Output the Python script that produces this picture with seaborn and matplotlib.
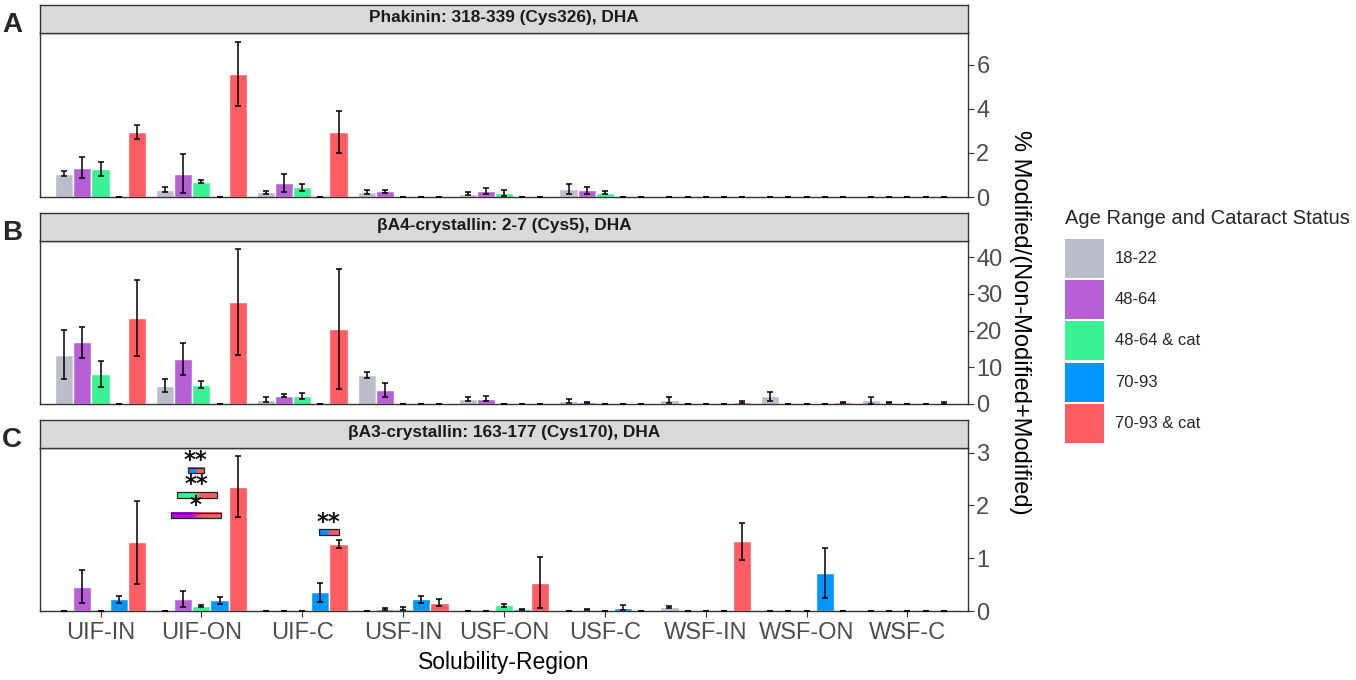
import numpy as np
import pandas as pd
import seaborn as sns
import matplotlib.pyplot as plt
from matplotlib.patches import Rectangle
from matplotlib.colors import to_rgb

regions = ["UIF-IN", "UIF-ON", "UIF-C", "USF-IN", "USF-ON", "USF-C", "WSF-IN", "WSF-ON", "WSF-C"]
groups = ["18-22", "48-64", "48-64 & cat", "70-93", "70-93 & cat"]
colors = ["#BBBDCB", "#B75FD4", "#3AF296", "#0096FF", "#FF5C64"]

# A: Phakinin  (rows follow groups)
phak_mean = [
    [1.06, 0.33, 0.21, 0.21, 0.15, 0.38, 0, 0, 0],
    [1.33, 1.06, 0.64, 0.26, 0.27, 0.30, 0, 0, 0],
    [1.29, 0.70, 0.44, 0, 0.18, 0.20, 0, 0, 0],
    [0, 0, 0, 0, 0, 0, 0, 0, 0],
    [2.94, 5.58, 2.95, 0, 0, 0, 0, 0, 0],
]
phak_err = [
    [0.10, 0.12, 0.08, 0.09, 0.08, 0.23, 0, 0, 0],
    [0.48, 0.88, 0.42, 0.07, 0.15, 0.15, 0, 0, 0],
    [0.32, 0.06, 0.17, 0, 0.14, 0.05, 0, 0, 0],
    [0, 0, 0, 0, 0, 0, 0, 0, 0],
    [0.32, 1.45, 0.95, 0, 0, 0, 0, 0, 0],
]

# B: bA4-crystallin
ba4_mean = [
    [13.4, 5.0, 1.2, 7.9, 1.35, 0.8, 1.1, 2.1, 1.0],
    [16.8, 12.3, 2.2, 3.8, 1.45, 0.45, 0, 0, 0.35],
    [8.15, 5.25, 2.2, 0, 0, 0, 0, 0, 0],
    [0, 0, 0, 0, 0, 0, 0, 0, 0],
    [23.5, 27.7, 20.4, 0, 0, 0, 0.55, 0.45, 0.3],
]
ba4_err = [
    [6.7, 1.8, 0.6, 0.9, 0.65, 0.6, 0.8, 1.2, 1.0],
    [4.2, 4.4, 0.4, 1.8, 0.65, 0.2, 0, 0, 0.2],
    [3.6, 1.0, 0.75, 0, 0, 0, 0, 0, 0],
    [0, 0, 0, 0, 0, 0, 0, 0, 0],
    [10.4, 14.4, 16.4, 0, 0, 0, 0.35, 0.2, 0.3],
]

# C: bA3-crystallin
ba3_mean = [
    [0, 0, 0, 0, 0, 0, 0.07, 0, 0],
    [0.46, 0.22, 0, 0.045, 0, 0.02, 0, 0, 0],
    [0, 0.09, 0, 0.04, 0.11, 0, 0, 0, 0],
    [0.22, 0.20, 0.36, 0.22, 0.03, 0.065, 0, 0.72, 0],
    [1.30, 2.36, 1.27, 0.16, 0.54, 0, 1.32, 0, 0],
]
ba3_err = [
    [0, 0, 0, 0, 0, 0, 0.02, 0, 0],
    [0.31, 0.15, 0, 0.02, 0, 0.01, 0, 0, 0],
    [0, 0.02, 0, 0.03, 0.025, 0, 0, 0, 0],
    [0.07, 0.06, 0.18, 0.07, 0.01, 0.05, 0, 0.475, 0],
    [0.79, 0.57, 0.07, 0.06, 0.49, 0, 0.355, 0, 0],
]

titles = ["Phakinin: 318-339 (Cys326), DHA",
          "\u03b2A4-crystallin: 2-7 (Cys5), DHA",
          "\u03b2A3-crystallin: 163-177 (Cys170), DHA"]
letters = ["A", "B", "C"]
ylims = [7.45, 44.4, 3.09]
yticks = [[0, 2, 4, 6], [0, 10, 20, 30, 40], [0, 1, 2, 3]]

# significance marks in panel C
sig_lo = [0.864, 0.755, 0.695, 2.165]
sig_hi = [1.026, 1.154, 1.191, 2.363]
sig_y = [2.665, 2.20, 1.81, 1.49]
sig_txt = ["**", "**", "*", "**"]
sig_col = ["#0096FF", "#3AF296", "#C000E8", "#0096FF"]

sns.set_theme(style="white")
plt.rcParams["font.family"] = ["Liberation Sans", "DejaVu Sans"]

W, H = 1356, 680
fig = plt.figure(figsize=(W / 100, H / 100), dpi=100)

panels = [(33, 197), (241, 404), (448, 611)]
left, right = 40, 968


def long_df(mean, err):
    rows = []
    for g, m_row, e_row in zip(groups, mean, err):
        for r, m, e in zip(regions, m_row, e_row):
            rows.append({"Region": r, "Group": g, "value": m, "err": e})
    return pd.DataFrame(rows)


data = [long_df(phak_mean, phak_err), long_df(ba4_mean, ba4_err), long_df(ba3_mean, ba3_err)]

for k, (top, bot) in enumerate(panels):
    ax = fig.add_axes([left / W, 1 - bot / H, (right - left) / W, (bot - top) / H])
    df = data[k]
    sns.barplot(data=df, x="Region", y="value", hue="Group", order=regions,
                hue_order=groups, palette=colors, errorbar=None, width=0.9,
                saturation=1, legend=False, ax=ax)
    # error bars at the bar centres
    for cont, g in zip(ax.containers, groups):
        sub = df[df["Group"] == g].set_index("Region").loc[regions]
        xs = [p.get_x() + p.get_width() / 2 for p in cont.patches]
        ax.errorbar(xs, sub["value"].values, yerr=sub["err"].values, fmt="none",
                    ecolor="black", elinewidth=1.1, capsize=2.2, capthick=1.1, zorder=5)
    ax.set_xlim(-0.6, 8.6)
    ax.set_ylim(0, ylims[k])
    ax.set_yticks(yticks[k])
    ax.yaxis.tick_right()
    ax.tick_params(axis="y", right=True, length=4, width=0.8, color="#333333",
                   labelsize=17, labelcolor="#4D4D4D", pad=2)
    for s in ax.spines.values():
        s.set_color("#333333")
        s.set_linewidth(1.0)
    ax.set_ylabel("")
    ax.set_xlabel("")
    if k < 2:
        ax.set_xticks([])
    else:
        ax.tick_params(axis="x", bottom=True, length=4, width=0.8, color="#333333",
                       labelsize=17, labelcolor="#4D4D4D", pad=4)
        ax.set_xlabel("Solubility-Region", fontsize=16.5, color="black", labelpad=5)
        # significance bars, two colour fill
        for lo, hi, yy, txt, c in zip(sig_lo, sig_hi, sig_y, sig_txt, sig_col):
            c1, c2 = np.array(to_rgb(c)), np.array(to_rgb("#FF5C64"))
            t = np.clip((np.linspace(0, 1, 60) - 0.38) / 0.24, 0, 1)[:, None]
            grad = (c1 * (1 - t) + c2 * t)[None, :, :]
            h = 0.11
            ax.imshow(grad, extent=(lo, hi, yy - h / 2, yy + h / 2), aspect="auto",
                      zorder=6, interpolation="bilinear")
            ax.add_patch(Rectangle((lo, yy - h / 2), hi - lo, h, fill=False,
                                   edgecolor="#222222", linewidth=0.9, zorder=7))
            ax.annotate(txt, xy=((lo + hi) / 2, yy), xytext=(0, 2.5),
                        textcoords="offset points", ha="center", va="baseline",
                        fontsize=16.5, fontweight="bold", color="#111111", zorder=7,
                        family="DejaVu Sans")
        ax.set_xlim(-0.6, 8.6)
        ax.set_ylim(0, ylims[k])

    # strip on top of each panel
    sax = fig.add_axes([left / W, 1 - top / H, (right - left) / W, 28 / H])
    sax.set_facecolor("#D9D9D9")
    sax.set_xticks([])
    sax.set_yticks([])
    for s in sax.spines.values():
        s.set_color("#333333")
        s.set_linewidth(1.0)
    sax.text(0.5, 0.55, titles[k], ha="center", va="center", fontsize=12.4,
             fontweight="bold", color="#1A1A1A", transform=sax.transAxes)
    fig.text(2 / W, 1 - (top - 8) / H, letters[k], fontsize=20, fontweight="bold",
             ha="left", va="center")

fig.text(1020 / W, 1 - 322 / H, "% Modified/(Non-Modified+Modified)", rotation=270,
         ha="center", va="center", fontsize=17, color="black")

# legend
fig.text(1065 / W, 1 - 218 / H, "Age Range and Cataract Status", fontsize=14.5,
         ha="left", va="center")
for i, (g, c) in enumerate(zip(groups, colors)):
    y0 = 239 + i * 41.2
    fig.add_artist(Rectangle((1065 / W, 1 - (y0 + 39) / H), 39 / W, 39 / H,
                             transform=fig.transFigure, facecolor=c, edgecolor="none"))
    fig.text(1115 / W, 1 - (y0 + 19.5) / H, g, fontsize=12, ha="left", va="center")

fig.savefig("out.png", dpi=100)
